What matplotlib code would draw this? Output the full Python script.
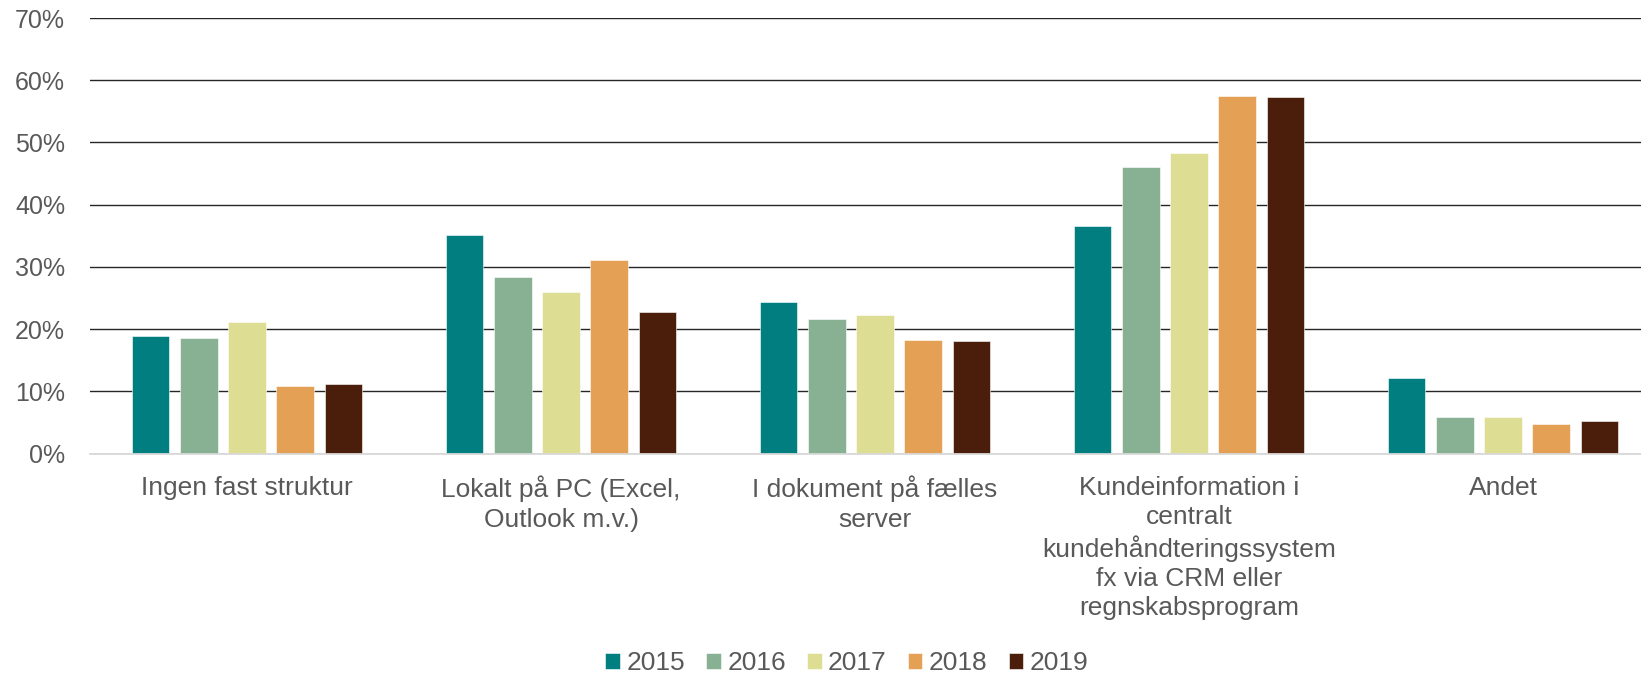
import numpy as np
import matplotlib.pyplot as plt
from matplotlib.ticker import PercentFormatter

# Categories and shares per year
categories = ['Ingen fast struktur',
              'Lokalt på PC (Excel,\nOutlook m.v.)',
              'I dokument på fælles\nserver',
              'Kundeinformation i\ncentralt\nkundehåndteringssystem\nfx via CRM eller\nregnskabsprogram',
              'Andet']
years = ['2015', '2016', '2017', '2018', '2019']
v2015 = [18.9, 35.1, 24.3, 36.6, 12.1]
v2016 = [18.6, 28.4, 21.6, 46.1, 5.9]
v2017 = [21.1, 25.9, 22.3, 48.3, 5.9]
v2018 = [10.85, 31.1, 18.2, 57.4, 4.8]
v2019 = [11.1, 22.8, 18.1, 57.3, 5.3]
series = [v2015, v2016, v2017, v2018, v2019]
colours = ['#007E80', '#88B093', '#DDDE94', '#E4A054', '#4B1E0C']

plt.rcParams['font.family'] = ['Liberation Sans', 'DejaVu Sans']
txt = '#595959'

fig = plt.figure(figsize=(16.41, 6.75), dpi=100)
# axes runs past the right edge, like the cropped original
ax = fig.add_axes([90 / 1641, 1 - 453.5 / 675, 1570 / 1641, 435.5 / 675])

x = np.arange(len(categories))
step = 0.1535
width = 0.12
for i, (yr, vals) in enumerate(zip(years, series)):
    ax.bar(x + (i - 2) * step, vals, width, color=colours[i], label=yr,
           edgecolor='white', linewidth=0.4, zorder=3)

ax.set_xlim(-0.5, 4.5)
ax.set_ylim(0, 70)
ax.set_yticks(range(0, 71, 10))
ax.yaxis.set_major_formatter(PercentFormatter(decimals=0))
ax.grid(axis='y', color='#262626', linewidth=1.0, zorder=0)
for s in ['top', 'right', 'left']:
    ax.spines[s].set_visible(False)
ax.spines['bottom'].set_color('#D9D9D9')
ax.spines['bottom'].set_linewidth(1.3)
ax.spines['bottom'].set_zorder(4)
ax.tick_params(axis='both', length=0, colors=txt)
ax.tick_params(axis='y', pad=18, labelsize=18)
ax.tick_params(axis='x', pad=16, labelsize=19)
ax.set_xticks(x)
ax.set_xticklabels(categories, linespacing=1.28, va='top')

fig.legend(loc='center', bbox_to_anchor=(847 / 1641, 12 / 675), ncol=5,
           frameon=False, fontsize=19, labelcolor=txt,
           handlelength=0.55, handleheight=0.55, handletextpad=0.25,
           columnspacing=0.8, borderaxespad=0)

plt.savefig('out.png', dpi=100)
